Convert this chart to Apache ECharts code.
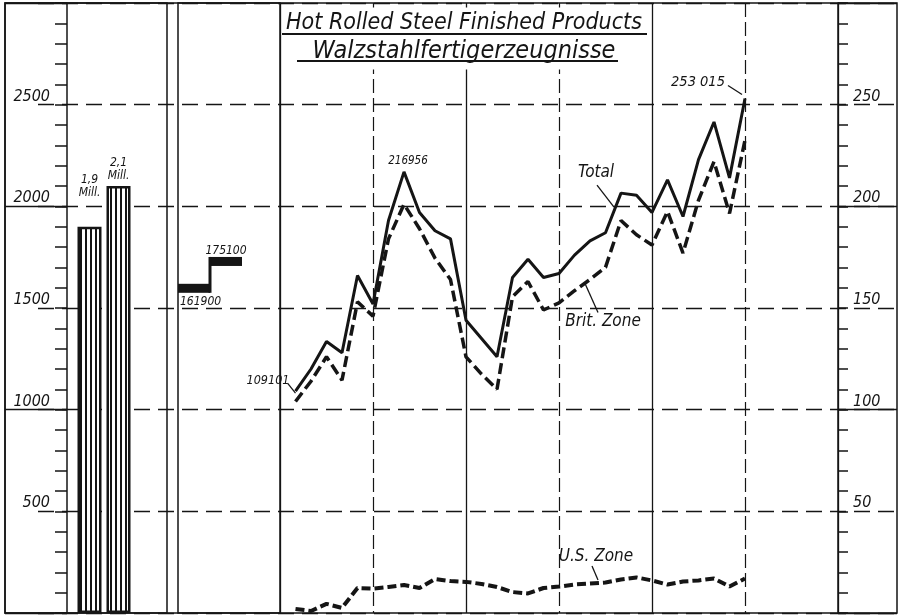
<!DOCTYPE html>
<html>
<head>
<meta charset="utf-8">
<title>Hot Rolled Steel Finished Products</title>
<script src="https://cdn.jsdelivr.net/npm/echarts@6/dist/echarts.min.js"></script>
<style>
  html, body { margin: 0; padding: 0; background: #fff; }
  #main { width: 902px; height: 615px; }
</style>
</head>
<body>
<div id="main"></div>
<script>
// pre-war reference years: yearly output (left scale, 1000 t) and monthly average (right scale, 1000 t)
const prewarYears = ['1936', '1938']
const prewarYearly = [1900, 2100]
const prewarYearlyLabels = ['1,9\nMill.', '2,1\nMill.']
const prewarMonthly = [161.9, 175.1]
const prewarMonthlyLabels = ['161900', '175100']

// month axis Dec 1946 .. Dec 1949
const months = [
  '1946-12',
  '1947-01', '1947-02', '1947-03', '1947-04', '1947-05', '1947-06',
  '1947-07', '1947-08', '1947-09', '1947-10', '1947-11', '1947-12',
  '1948-01', '1948-02', '1948-03', '1948-04', '1948-05', '1948-06',
  '1948-07', '1948-08', '1948-09', '1948-10', '1948-11', '1948-12',
  '1949-01', '1949-02', '1949-03', '1949-04', '1949-05', '1949-06',
  '1949-07', '1949-08', '1949-09', '1949-10', '1949-11', '1949-12'
]

// monthly output Jan 1947 .. Jun 1949, 1000 t
const total = [109.101, 120, 133.5, 128, 166, 152, 193, 216.956, 197, 188, 184, 144,
  135, 126, 165, 174, 165, 167, 176, 183, 187, 206.5, 205.5, 197,
  213, 195, 223, 241.5, 214, 253.015]
const britZone = [104, 114, 126, 114.5, 153, 146, 184, 201, 189, 174.5, 164, 126,
  117.5, 110, 155.5, 163, 149, 152.5, 158.5, 164, 170, 193, 186, 181,
  197.5, 177, 203, 222, 196.5, 232.5]
const usZone = [2, 1, 4.5, 2.5, 12.3, 12, 12.8, 13.8, 12.3, 16.7, 15.7, 15.3,
  14.3, 12.8, 10.3, 9.6, 12.3, 13, 14, 14.5, 15, 16.5, 17.5, 16,
  14, 15.5, 16, 17, 13, 17]

const INK = '#151515'
const FONT = "'DejaVu Sans Condensed', 'DejaVu Sans', sans-serif"

// notes written on the lines: month index, text, and pixel offsets of text centre and leader
const notes = [
  { series: total, i: 0, text: '109101', size: 12.5, tx: -27.5, ty: -10, leader: [[-8, -8], [0, 2]] },
  { series: total, i: 7, text: '216956', size: 11.5, tx: 4, ty: -11 },
  { series: total, i: 21, text: 'Total', size: 17, tx: -25, ty: -21, leader: [[-24, -8], [-7, 14]] },
  { series: total, i: 29, text: '253 015', size: 14.5, tx: -47, ty: -16.5, leader: [[-17, -13], [-3, -4]] },
  { series: britZone, i: 19, text: 'Brit. Zone', size: 17, tx: 13, ty: 42.5, leader: [[8, 33], [-5, 4]] },
  { series: usZone, i: 20, text: 'U.S. Zone', size: 17, tx: -9.5, ty: -25.5, leader: [[-13.5, -16.5], [-7.5, -2.5]] }
]

// vertical hatching of the yearly bars
const stripes = document.createElement('canvas')
stripes.width = 5
stripes.height = 5
const sctx = stripes.getContext('2d')
sctx.fillStyle = '#fff'
sctx.fillRect(0, 0, 5, 5)
sctx.fillStyle = INK
sctx.fillRect(0, 0, 2, 5)

const hidden = (gridIndex) => ({ gridIndex: gridIndex, type: 'value', show: false })
const hLine = { show: true, lineStyle: { color: INK, width: 1.3, type: [16, 8] } }
const labelFont = { color: INK, fontFamily: FONT, fontStyle: 'italic' }

function monthly(values) {
  return values.map((v, i) => [months[i + 1], v])
}

function lineSeries(name, values, lineStyle, z) {
  return {
    name: name,
    type: 'line',
    xAxisIndex: 6,
    yAxisIndex: 6,
    data: monthly(values),
    showSymbol: false,
    lineStyle: Object.assign({ color: INK }, lineStyle),
    z: z
  }
}

const chart = echarts.init(document.getElementById('main'))

chart.setOption({
  backgroundColor: '#fff',
  animation: false,
  title: {
    text: '{a|Hot Rolled Steel Finished Products}\n{b|Walzstahlfertigerzeugnisse}',
    left: 460,
    top: 5,
    padding: [4, 4, 6, 4],
    backgroundColor: '#fff',
    textAlign: 'center',
    textStyle: {
      fontWeight: 'normal',
      rich: {
        a: { fontSize: 23, lineHeight: 28, fontStyle: 'italic', fontWeight: 'normal', fontFamily: FONT, color: INK },
        b: { fontSize: 25, lineHeight: 28, fontStyle: 'italic', fontWeight: 'normal', fontFamily: FONT, color: INK }
      }
    }
  },
  graphic: [
    { type: 'line', z: 100, shape: { x1: 282, y1: 34, x2: 647, y2: 34 }, style: { stroke: INK, lineWidth: 1.8 } },
    { type: 'line', z: 100, shape: { x1: 297, y1: 61, x2: 618, y2: 61 }, style: { stroke: INK, lineWidth: 1.8 } }
  ],
  grid: [
    { left: 5, right: 5, top: 3, bottom: 2, show: true, borderColor: INK, borderWidth: 1.5 }, // frame
    { left: 38, right: 5, top: 3, bottom: 2 }, // horizontal rules
    { left: 5, width: 162, top: 3, bottom: 2, show: true, borderColor: INK, borderWidth: 1.5 }, // left panel
    { left: 75, width: 58, top: 3, bottom: 2 }, // yearly bars
    { left: 178, width: 102, top: 3, bottom: 2, show: true, borderColor: INK, borderWidth: 1.5 }, // pre-war panel
    { left: 178, width: 64, top: 3, bottom: 2 }, // monthly average steps
    { left: 280, width: 558, top: 3, bottom: 2 } // monthly lines
  ],
  xAxis: [
    hidden(0),
    hidden(1),
    hidden(2),
    { gridIndex: 3, type: 'category', data: prewarYears, show: false },
    hidden(4),
    { gridIndex: 5, type: 'category', data: prewarYears, show: false },
    {
      gridIndex: 6, type: 'category', data: months, boundaryGap: false,
      axisLine: { show: false }, axisTick: { show: false }, axisLabel: { show: false },
      splitLine: { show: true, interval: (i) => i % 12 === 0, lineStyle: { color: INK, width: 1.3 } }
    },
    {
      gridIndex: 6, type: 'category', data: months, boundaryGap: false,
      axisLine: { show: false }, axisTick: { show: false }, axisLabel: { show: false },
      splitLine: { show: true, interval: (i) => i % 12 === 6, lineStyle: { color: INK, width: 1.2, type: [14, 5] } }
    }
  ],
  yAxis: [
    hidden(0),
    {
      gridIndex: 1, type: 'value', min: 0, max: 3000, interval: 500,
      axisLine: { show: false }, axisTick: { show: false }, axisLabel: { show: false },
      splitLine: hLine
    },
    hidden(2),
    {
      gridIndex: 3, type: 'value', position: 'left', offset: 8, min: 0, max: 3000, interval: 500,
      axisLine: { show: true, lineStyle: { color: INK, width: 1.5 } },
      axisTick: { show: true, length: 12, lineStyle: { color: INK, width: 1.5 } },
      minorTick: { show: true, splitNumber: 5, length: 12, lineStyle: { color: INK, width: 1.5 } },
      splitLine: { show: false },
      axisLabel: Object.assign({
        margin: 17, fontSize: 16, verticalAlign: 'bottom', showMinLabel: false, showMaxLabel: false,
        formatter: (v) => String(v)
      }, labelFont)
    },
    hidden(4),
    { gridIndex: 5, type: 'value', min: 0, max: 300, show: false },
    {
      gridIndex: 6, type: 'value', position: 'right', min: 0, max: 300, interval: 50,
      axisLine: { show: true, lineStyle: { color: INK, width: 1.5 } },
      axisTick: { show: true, length: 10, lineStyle: { color: INK, width: 1.5 } },
      minorTick: { show: true, splitNumber: 5, length: 10, lineStyle: { color: INK, width: 1.5 } },
      splitLine: { show: false },
      axisLabel: Object.assign({
        margin: 15, fontSize: 16, align: 'left', verticalAlign: 'bottom', showMinLabel: false, showMaxLabel: false,
        formatter: (v) => String(v)
      }, labelFont)
    },
    {
      gridIndex: 3, type: 'value', position: 'left', offset: 8, min: 0, max: 3000, interval: 1000,
      axisLine: { show: false }, axisLabel: { show: false }, splitLine: { show: false },
      axisTick: { show: true, length: 62, lineStyle: { color: INK, width: 1.3 } }
    },
    {
      gridIndex: 6, type: 'value', position: 'right', min: 0, max: 300, interval: 100,
      axisLine: { show: false }, axisLabel: { show: false }, splitLine: { show: false },
      axisTick: { show: true, length: 59, lineStyle: { color: INK, width: 1.3 } }
    }
  ],
  series: [
    {
      type: 'bar',
      xAxisIndex: 3,
      yAxisIndex: 3,
      data: prewarYearly,
      barWidth: 24,
      itemStyle: { color: { image: stripes, repeat: 'repeat' }, borderColor: INK, borderWidth: 2.5 },
      label: Object.assign({
        show: true, position: 'top', distance: 4, fontSize: 12, lineHeight: 13,
        formatter: (p) => prewarYearlyLabels[p.dataIndex]
      }, labelFont),
      labelLayout: (p) => (p.dataIndex === 0 ? { dy: -23 } : {})
    },
    {
      type: 'custom',
      xAxisIndex: 5,
      yAxisIndex: 5,
      data: prewarMonthly.map((v, i) => [prewarYears[i], v]),
      renderItem: function(params, api) {
        const i = params.dataIndex
        const pt = api.coord([api.value(0), api.value(1)])
        const w = api.size([1, 0])[0]
        const x0 = pt[0] - w / 2
        const children = [{
          type: 'rect',
          shape: { x: x0, y: pt[1], width: w, height: 9 },
          style: { fill: INK },
          textContent: {
            style: { text: prewarMonthlyLabels[i], fill: INK, fontSize: 12, fontStyle: 'italic', fontFamily: FONT }
          },
          textConfig: i === 0 ? { position: [2, 12] } : { position: 'top', distance: 0 }
        }]
        if (i > 0) {
          const prevY = api.coord([i - 1, prewarMonthly[i - 1]])[1]
          children.push({
            type: 'rect',
            shape: { x: x0 - 1.5, y: pt[1], width: 3, height: prevY + 9 - pt[1] },
            style: { fill: INK }
          })
        }
        return { type: 'group', children: children }
      }
    },
    lineSeries('Total', total, { width: 3 }, 4),
    lineSeries('Brit. Zone', britZone, { width: 3.5, type: [11, 5] }, 3),
    lineSeries('U.S. Zone', usZone, { width: 4, type: [9, 4] }, 3),
    {
      // notes and their leader lines, anchored on the data points
      type: 'custom',
      xAxisIndex: 6,
      yAxisIndex: 6,
      z: 5,
      silent: true,
      data: notes.map((n) => [months[n.i + 1], n.series[n.i]]),
      renderItem: function(params, api) {
        const n = notes[params.dataIndex]
        const p = api.coord([api.value(0), api.value(1)])
        const children = [{
          type: 'text',
          x: p[0] + n.tx,
          y: p[1] + n.ty,
          style: {
            text: n.text, fill: INK, fontSize: n.size, fontStyle: 'italic', fontFamily: FONT,
            align: 'center', verticalAlign: 'middle'
          }
        }]
        if (n.leader) {
          children.push({
            type: 'line',
            shape: {
              x1: p[0] + n.leader[0][0], y1: p[1] + n.leader[0][1],
              x2: p[0] + n.leader[1][0], y2: p[1] + n.leader[1][1]
            },
            style: { stroke: INK, lineWidth: 1.3 }
          })
        }
        return { type: 'group', children: children }
      }
    }
  ]
})
</script>
</body>
</html>
